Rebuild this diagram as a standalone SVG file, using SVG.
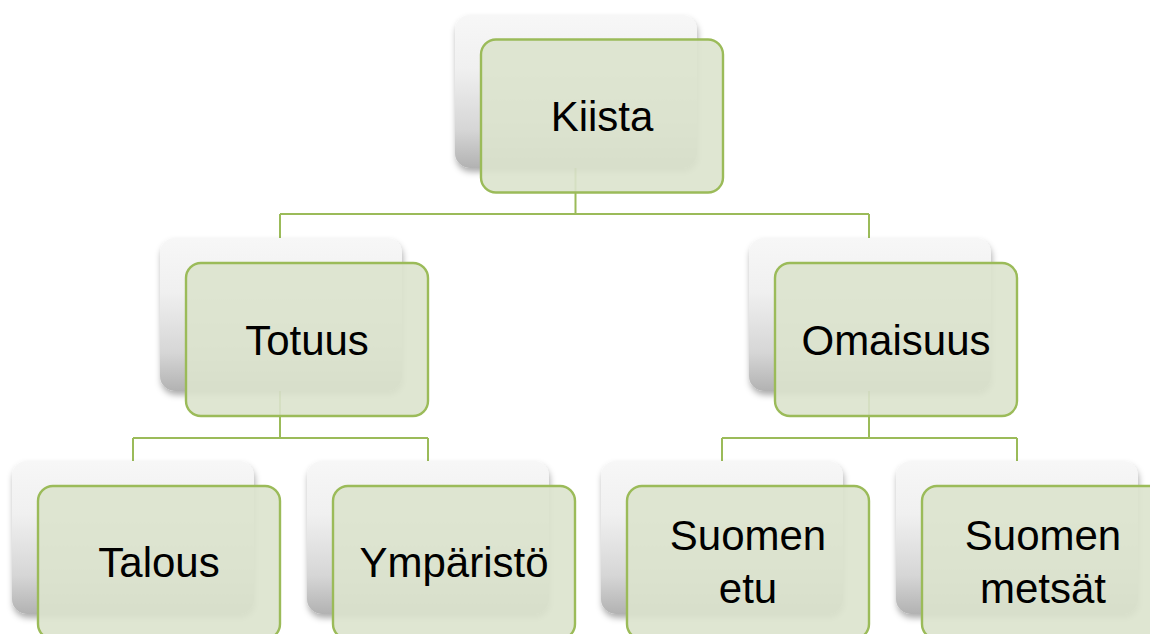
<svg xmlns="http://www.w3.org/2000/svg" width="1150" height="634" viewBox="0 0 1150 634">
  <defs>
    <linearGradient id="backGrad" x1="0" y1="0" x2="0" y2="1">
      <stop offset="0" stop-color="#f7f7f7"/>
      <stop offset="0.35" stop-color="#f0f0f0"/>
      <stop offset="0.75" stop-color="#d6d6d6"/>
      <stop offset="1" stop-color="#b2b2b2"/>
    </linearGradient>
    <filter id="shadow" x="-10%" y="-10%" width="125%" height="130%">
      <feDropShadow dx="1" dy="4" stdDeviation="3" flood-color="#000" flood-opacity="0.32"/>
    </filter>
  </defs>
  <style>
    .back { fill: url(#backGrad); filter: url(#shadow); }
    .front { fill: #dbe3cd; fill-opacity: 0.9; stroke: #9bbb59; stroke-width: 2.4; }
    .conn { fill: none; stroke: #9bbb59; stroke-width: 2; }
    .lbl { font-family: "Liberation Sans", Arial, sans-serif; font-size: 42px; fill: #000; text-anchor: middle; }
  </style>
  <rect width="1150" height="634" fill="#ffffff"/>

  <g id="connectors">
    <path class="conn" d="M575.5 160 V214 M280 214 H869 M280 214 V240 M869 214 V240"/>
    <path class="conn" d="M280 385 V438 M133 438 H428 M133 438 V463 M428 438 V463"/>
    <path class="conn" d="M869 385 V438 M722 438 H1017 M722 438 V463 M1017 438 V463"/>
  </g>

  <g id="node-kiista">
    <rect class="back" x="455" y="15" width="242" height="153" rx="15"/>
    <rect class="front" x="481" y="39.5" width="242" height="153" rx="15"/>
    <text class="lbl" x="602" y="131">Kiista</text>
  </g>

  <g id="node-totuus">
    <rect class="back" x="160" y="238" width="242" height="153" rx="15"/>
    <rect class="front" x="186" y="263" width="242" height="153" rx="15"/>
    <text class="lbl" x="307" y="355">Totuus</text>
  </g>

  <g id="node-omaisuus">
    <rect class="back" x="749" y="238" width="242" height="153" rx="15"/>
    <rect class="front" x="775" y="263" width="242" height="153" rx="15"/>
    <text class="lbl" x="896" y="355">Omaisuus</text>
  </g>

  <g id="node-talous">
    <rect class="back" x="12" y="461" width="242" height="153" rx="15"/>
    <rect class="front" x="38" y="486" width="242" height="153" rx="15"/>
    <text class="lbl" x="159" y="577">Talous</text>
  </g>

  <g id="node-ymparisto">
    <rect class="back" x="307" y="461" width="242" height="153" rx="15"/>
    <rect class="front" x="333" y="486" width="242" height="153" rx="15"/>
    <text class="lbl" x="454" y="577">Ympäristö</text>
  </g>

  <g id="node-suomen-etu">
    <rect class="back" x="601" y="461" width="242" height="153" rx="15"/>
    <rect class="front" x="627" y="486" width="242" height="153" rx="15"/>
    <text class="lbl" x="748" y="550">Suomen</text>
    <text class="lbl" x="748" y="603">etu</text>
  </g>

  <g id="node-suomen-metsat">
    <rect class="back" x="896" y="461" width="242" height="153" rx="15"/>
    <rect class="front" x="922" y="486" width="242" height="153" rx="15"/>
    <text class="lbl" x="1043" y="550">Suomen</text>
    <text class="lbl" x="1043" y="603">metsät</text>
  </g>
</svg>
